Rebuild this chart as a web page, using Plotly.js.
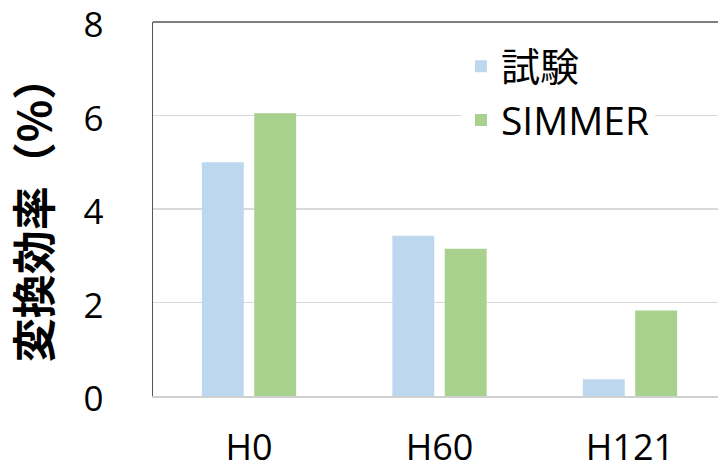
<!DOCTYPE html>
<html>
<head>
<meta charset="utf-8">
<script src="https://cdn.plot.ly/plotly-3.0.1.min.js"></script>
<style>html,body{margin:0;padding:0;background:#fff;}#chart{width:718px;height:473px;}</style>
</head>
<body>
<div id="chart"></div>
<script>
var categories = ['H0', 'H60', 'H121'];
var seriesNames = ['試験', 'SIMMER'];
var testValues = [5.0, 3.43, 0.36];
var simmerValues = [6.05, 3.15, 1.83];
var yTickValues = [0, 2, 4, 6, 8];
var yTickLabels = ['0', '2', '4', '6', '8'];

var traces = [
  {type: 'bar', name: seriesNames[0], x: categories, y: testValues,
   marker: {color: '#BDD7EE'}, legendgroup: 'a', hoverinfo: 'none'},
  {type: 'bar', name: seriesNames[1], x: categories, y: simmerValues,
   marker: {color: '#A9D18E'}, legendgroup: 'b', hoverinfo: 'none'}
];

var layout = {
  width: 718, height: 473,
  margin: {l: 153, r: 0, t: 22, b: 77},
  paper_bgcolor: '#fff', plot_bgcolor: '#fff',
  barmode: 'group', bargap: 0.45, bargroupgap: 0.2,
  font: {family: 'Open Sans, Noto Sans CJK JP, sans-serif', color: '#000'},
  xaxis: {
    type: 'category', range: [-0.504, 2.462],
    showline: true, linecolor: '#d0d0d0', linewidth: 1.5,
    showgrid: false, zeroline: false, ticks: '',
    tickfont: {size: 36, family: 'Open Sans, sans-serif'},
    ticklabelstandoff: 19
  },
  yaxis: {
    range: [0, 8.0001], tickmode: 'array', tickvals: yTickValues, ticktext: yTickLabels,
    ticklabeloverflow: 'allow', ticklabelshift: 3,
    showline: true, linecolor: '#555', linewidth: 1.5,
    showgrid: true, gridcolor: '#d9d9d9', gridwidth: 1.5, zeroline: false, ticks: '',
    tickfont: {size: 35, family: 'Open Sans, sans-serif'},
    ticklabelstandoff: 41,
    title: {text: '変換効率（%）', font: {size: 44, family: 'Noto Sans CJK JP, sans-serif', weight: 'bold'}, standoff: 18}
  },
  shapes: [{type: 'line', xref: 'paper', yref: 'paper', x0: 0, x1: 1, y0: 1, y1: 1,
            line: {color: '#555', width: 1.5}}],
  legend: {
    x: 0.545, y: 0.967, xanchor: 'left', yanchor: 'top',
    bgcolor: '#fff', font: {size: 39, family: 'Open Sans, Noto Sans CJK JP, sans-serif'},
    traceorder: 'grouped', tracegroupgap: 0
  },
  showlegend: true
};

Plotly.newPlot('chart', traces, layout, {displayModeBar: false, staticPlot: true});
</script>
</body>
</html>
